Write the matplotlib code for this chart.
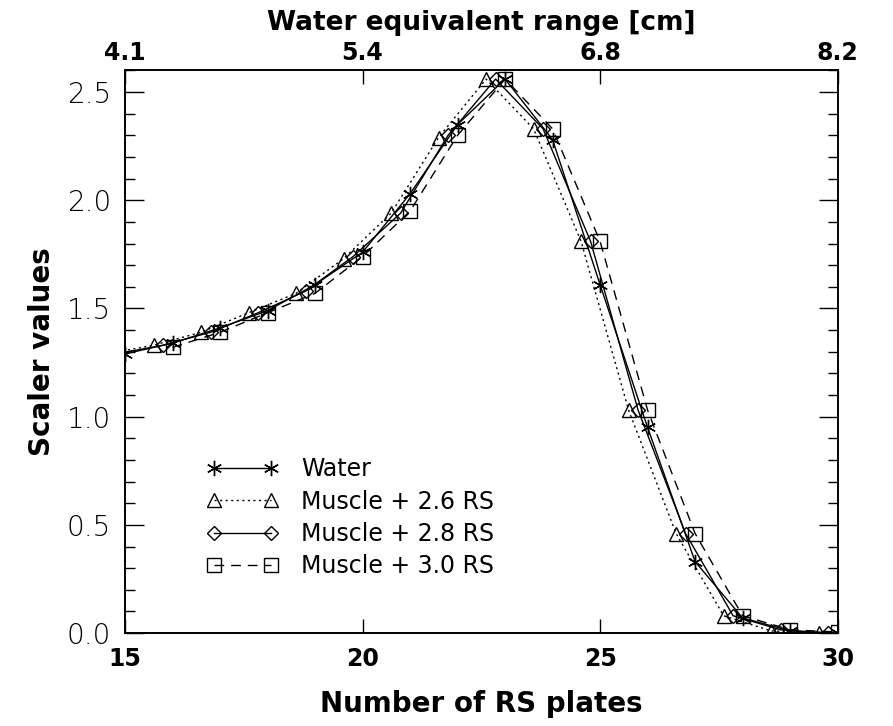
import matplotlib
matplotlib.use("Agg")
import matplotlib.pyplot as plt
from matplotlib.ticker import MultipleLocator, FixedLocator

plt.rcParams['font.family'] = ['DejaVu Sans']

# ---- data ----
water_x = [15, 16, 17, 18, 19, 20, 21, 22, 23, 24, 25, 26, 27, 28, 29, 30]
water_y = [1.29, 1.34, 1.41, 1.49, 1.61, 1.76, 2.03, 2.35, 2.56, 2.28, 1.61, 0.95, 0.33, 0.07, 0.01, 0.0]

m26_x = [14.6, 15.6, 16.6, 17.6, 18.6, 19.6, 20.6, 21.6, 22.6, 23.6, 24.6, 25.6, 26.6, 27.6, 28.6, 29.6]
m26_y = [1.29, 1.33, 1.39, 1.48, 1.57, 1.73, 1.94, 2.29, 2.56, 2.33, 1.81, 1.03, 0.46, 0.08, 0.01, 0.0]

m28_x = [14.8, 15.8, 16.8, 17.8, 18.8, 19.8, 20.8, 21.8, 22.8, 23.8, 24.8, 25.8, 26.8, 27.8, 28.8, 29.8]
m28_y = [1.29, 1.33, 1.39, 1.48, 1.58, 1.74, 1.94, 2.30, 2.56, 2.33, 1.81, 1.03, 0.46, 0.08, 0.015, 0.0]

m30_x = [16, 17, 18, 19, 20, 21, 22, 23, 24, 25, 26, 27, 28, 29, 30]
m30_y = [1.32, 1.39, 1.48, 1.57, 1.74, 1.95, 2.30, 2.56, 2.33, 1.81, 1.03, 0.46, 0.08, 0.015, 0.005]

labels = ["Water", "Muscle + 2.6 RS", "Muscle + 2.8 RS", "Muscle + 3.0 RS"]

bottom_ticks = [15, 20, 25, 30]
top_tick_labels = ["4.1", "5.4", "6.8", "8.2"]
y_major = [0.0, 0.5, 1.0, 1.5, 2.0, 2.5]

# ---- figure ----
fig = plt.figure(figsize=(8.93, 7.26), dpi=100)
ax = fig.add_axes([0.140, 0.128, 0.798, 0.775])

asterisk = (6, 2, 0)
common = dict(color='black', markerfacecolor='none', markeredgecolor='black', lw=1.0, mew=1.0)
ax.plot(water_x, water_y, linestyle='-', marker=asterisk, ms=11, label=labels[0], **common)
ax.plot(m26_x, m26_y, linestyle=(0, (1.5, 2.5)), marker='^', ms=10, label=labels[1], **common)
ax.plot(m28_x, m28_y, linestyle='-', marker='D', ms=7, label=labels[2], **common)
ax.plot(m30_x, m30_y, linestyle=(0, (7, 5)), marker='s', ms=10, label=labels[3], **common)

ax.set_xlim(15, 30)
ax.set_ylim(0, 2.6)
ax.xaxis.set_major_locator(FixedLocator(bottom_ticks))
ax.set_xticklabels([str(t) for t in bottom_ticks], fontsize=17, fontweight='bold')
ax.yaxis.set_major_locator(FixedLocator(y_major))
ax.yaxis.set_minor_locator(MultipleLocator(0.1))
ax.set_yticklabels([f"{v:.1f}" for v in y_major], fontweight=200, fontsize=20)
ax.tick_params(axis='x', which='major', direction='in', length=10, width=1, top=False, pad=10)
ax.tick_params(axis='y', which='major', direction='in', length=14, width=1, right=True, pad=10)
ax.tick_params(axis='y', which='minor', direction='in', length=7, width=1, right=True)

ax.set_xlabel("Number of RS plates", fontsize=20, fontweight='bold', labelpad=14)
ax.set_ylabel("Scaler values", fontsize=20, fontweight='bold', labelpad=8)

ax2 = ax.twiny()
ax2.set_xlim(ax.get_xlim())
ax2.set_xticks(bottom_ticks)
ax2.set_xticklabels(top_tick_labels, fontsize=17, fontweight='bold')
ax2.tick_params(axis='x', direction='in', length=10, width=1, pad=4)
ax2.set_xlabel("Water equivalent range [cm]", fontsize=19, fontweight='bold', labelpad=8)

for a in (ax, ax2):
    for s in a.spines.values():
        s.set_linewidth(1.2)

leg = ax.legend(loc='upper left', bbox_to_anchor=(0.085, 0.35), frameon=False,
                numpoints=2, handlelength=3.0, handletextpad=1.0, labelspacing=0.35,
                fontsize=17)

fig.savefig("out.png", dpi=100)
